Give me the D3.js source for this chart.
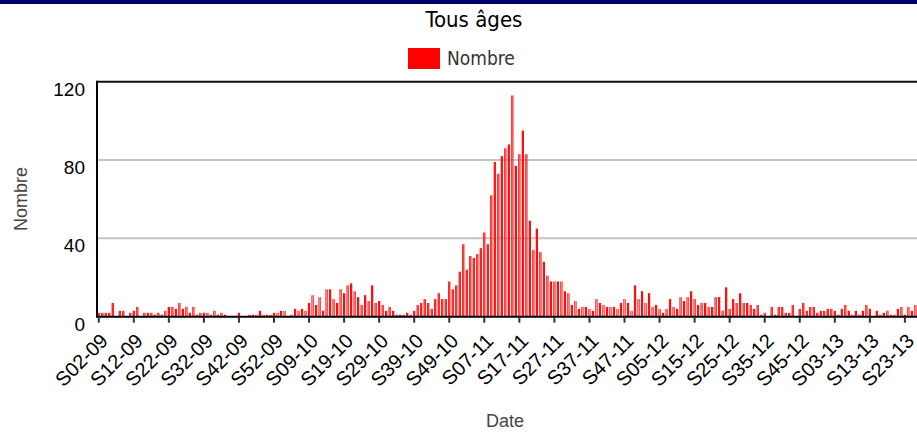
<!DOCTYPE html>
<html>
<head>
<meta charset="utf-8">
<script src="https://cdn.jsdelivr.net/npm/d3@7"></script>
<style>
body { margin: 0; background: #fff; }
</style>
</head>
<body>
<script>
// weeks shown per year, S02-09 .. S26-13
var years = ["09", "10", "11", "12", "13"];
var firstWeeks = [2, 1, 1, 1, 1];
var lastWeeks = [53, 52, 52, 52, 26];

var tickLabels = ["S02-09", "S12-09", "S22-09", "S32-09", "S42-09", "S52-09",
    "S09-10", "S19-10", "S29-10", "S39-10", "S49-10", "S07-11", "S17-11",
    "S27-11", "S37-11", "S47-11", "S05-12", "S15-12", "S25-12", "S35-12",
    "S45-12", "S03-13", "S13-13", "S23-13"];

var yTicks = [0, 40, 80, 120];

var nombre = [
    2, 2, 2, 2, 7, 0, 3, 3, 0, 2, 3, 5, 0, 2, 2, 2, 1, 2, 1, 3,
    5, 5, 4, 7, 4, 5, 2, 5, 1, 2, 2, 2, 1, 3, 1, 2, 1, 0, 0, 0,
    2, 0, 0, 1, 1, 1, 3, 1, 1, 1, 2, 2, 3, 3, 0, 1, 4, 3, 4, 3,
    7, 11, 6, 10, 3, 14, 14, 9, 7, 14, 12, 16, 17, 13, 10, 6, 11, 8, 16, 7,
    8, 6, 3, 5, 3, 1, 1, 1, 2, 1, 3, 6, 7, 9, 7, 4, 9, 12, 9, 9,
    18, 14, 16, 23, 37, 24, 31, 30, 32, 35, 43, 37, 62, 79, 73, 82, 86, 88, 113, 77,
    83, 95, 83, 49, 34, 45, 33, 28, 21, 18, 18, 18, 18, 13, 12, 6, 8, 4, 5, 5,
    4, 3, 9, 7, 6, 5, 5, 5, 4, 7, 9, 7, 3, 16, 9, 13, 7, 12, 5, 6,
    4, 2, 4, 9, 5, 4, 10, 8, 10, 13, 9, 6, 7, 7, 5, 5, 10, 10, 3, 15,
    4, 9, 7, 12, 7, 7, 6, 4, 6, 1, 2, 0, 5, 1, 5, 5, 2, 2, 6, 0,
    4, 7, 3, 5, 5, 2, 3, 3, 4, 4, 3, 1, 4, 6, 3, 1, 3, 1, 3, 6,
    4, 0, 3, 1, 2, 3, 1, 1, 4, 5, 1, 5, 3, 6
];

var weeks = [];
years.forEach(function (yr, k) {
    for (var w = firstWeeks[k]; w <= lastWeeks[k]; w++) {
        weeks.push("S" + (w < 10 ? "0" + w : w) + "-" + yr);
    }
});

var width = 917, height = 432;
var plot = { left: 97, top: 81.7, bottom: 316.7 };
var step = 3.505;
var narrow = "'Liberation Sans Narrow', 'DejaVu Sans Condensed', 'Arial Narrow', sans-serif";

var svg = d3.select("body").append("svg")
    .attr("width", width)
    .attr("height", height)
    .style("font-family", "'Liberation Sans', Arial, sans-serif");

var defs = svg.append("defs");
var grad = defs.append("linearGradient").attr("id", "barGrad")
    .attr("x1", "0%").attr("x2", "100%").attr("y1", "0%").attr("y2", "0%");
grad.append("stop").attr("offset", "0%").attr("stop-color", "#ff0000");
grad.append("stop").attr("offset", "35%").attr("stop-color", "#ff1010");
grad.append("stop").attr("offset", "50%").attr("stop-color", "#ff9a9a");
grad.append("stop").attr("offset", "65%").attr("stop-color", "#ff1010");
grad.append("stop").attr("offset", "100%").attr("stop-color", "#ff0000");

var x = d3.scaleBand()
    .domain(weeks)
    .range([plot.left, plot.left + step * weeks.length])
    .paddingInner(0.36)
    .paddingOuter(0.18);

var y = d3.scaleLinear()
    .domain([0, 120])
    .range([plot.bottom, plot.top]);

// top frame band
svg.append("rect")
    .attr("x", 0).attr("y", 0)
    .attr("width", width).attr("height", 4)
    .attr("fill", "#00006b");

// title
svg.append("text")
    .attr("x", 474).attr("y", 27)
    .attr("text-anchor", "middle")
    .style("font-family", narrow)
    .style("font-stretch", "condensed")
    .style("font-size", "22px")
    .attr("fill", "#000")
    .text("Tous âges");

// legend
svg.append("rect")
    .attr("x", 408).attr("y", 48)
    .attr("width", 32).attr("height", 21)
    .attr("fill", "#ff0000");
svg.append("text")
    .attr("x", 447).attr("y", 65)
    .style("font-family", narrow)
    .style("font-stretch", "condensed")
    .style("font-size", "19px")
    .attr("fill", "#333")
    .text("Nombre");

// grid
svg.append("g").selectAll("line")
    .data([40, 80])
    .join("line")
    .attr("x1", plot.left).attr("x2", width)
    .attr("y1", function (d) { return y(d); })
    .attr("y2", function (d) { return y(d); })
    .attr("stroke", "#c4c4c4")
    .attr("stroke-width", 2);

svg.append("line")
    .attr("x1", plot.left).attr("x2", width)
    .attr("y1", y(120)).attr("y2", y(120))
    .attr("stroke", "#111")
    .attr("stroke-width", 2);

// bars
svg.append("g").selectAll("rect")
    .data(nombre)
    .join("rect")
    .attr("x", function (d, i) { return x(weeks[i]); })
    .attr("width", x.bandwidth())
    .attr("y", function (d) { return y(d); })
    .attr("height", function (d) { return y(0) - y(d); })
    .attr("fill", "url(#barGrad)");

// x axis
var xAxis = d3.axisBottom(x)
    .tickValues(tickLabels)
    .tickSize(6)
    .tickSizeOuter(0);

var gx = svg.append("g")
    .attr("transform", "translate(0," + plot.bottom + ")")
    .call(xAxis);
gx.select(".domain").attr("stroke", "#000").attr("stroke-width", 2)
    .attr("d", "M" + plot.left + ",0H" + width);
gx.selectAll(".tick line").attr("stroke", "#333").attr("stroke-width", 2);
gx.selectAll(".tick text")
    .style("font-size", "20px")
    .attr("fill", "#000")
    .attr("text-anchor", "end")
    .attr("dx", 0)
    .attr("dy", 0)
    .attr("transform", "translate(4,19) rotate(-45)");

// y axis
svg.append("line")
    .attr("x1", plot.left).attr("x2", plot.left)
    .attr("y1", plot.top - 1).attr("y2", plot.bottom + 1)
    .attr("stroke", "#000")
    .attr("stroke-width", 2);

svg.append("g").selectAll("text")
    .data(yTicks)
    .join("text")
    .attr("x", 85)
    .attr("y", function (d) { return y(d) + 14; })
    .attr("text-anchor", "end")
    .style("font-size", "19px")
    .attr("fill", "#000")
    .text(function (d) { return d; });

// axis titles
svg.append("text")
    .attr("transform", "translate(27,199) rotate(-90)")
    .attr("text-anchor", "middle")
    .style("font-size", "18px")
    .attr("fill", "#444")
    .text("Nombre");

svg.append("text")
    .attr("x", 505).attr("y", 427)
    .attr("text-anchor", "middle")
    .style("font-size", "18px")
    .attr("fill", "#444")
    .text("Date");
</script>
</body>
</html>
